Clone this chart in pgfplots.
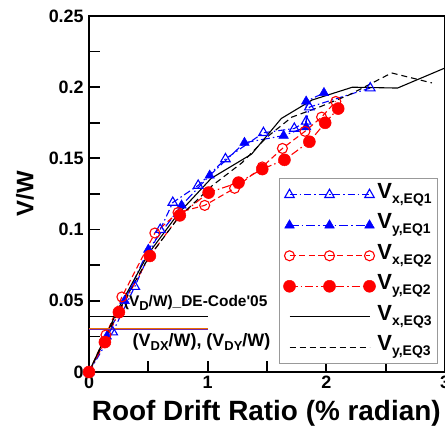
\documentclass[border=0pt]{standalone}
\usepackage{fontspec}
\setmainfont{Liberation Sans}
\usepackage{pgfplots}
\pgfplotsset{compat=1.18}

\definecolor{codeorange}{RGB}{235,110,0}
\definecolor{codepurple}{RGB}{120,40,170}

\newcommand{\sub}[1]{\raisebox{-5bp}{\fontsize{14}{14}\selectfont\bfseries #1}}
\newcommand{\ssub}[1]{\raisebox{-3.5bp}{\fontsize{13}{13}\selectfont\bfseries #1}}

\begin{document}
\begin{tikzpicture}
\begin{axis}[
    scale only axis,
    width=356bp, height=356bp,
    line width=2bp,
    xmin=0, xmax=3, ymin=0, ymax=0.25,
    xtick={0,1,2,3}, minor xtick={0.5,1.5,2.5},
    ytick={0,0.05,0.1,0.15,0.2,0.25},
    yticklabels={0,0.05,0.1,0.15,0.2,0.25},
    minor ytick={0.025,0.075,0.125,0.175,0.225},
    xtick pos=bottom, ytick pos=left,
    tick align=inside,
    major tick length=11bp, minor tick length=11bp,
    every tick/.style={black, line width=1.8bp},
    /pgf/number format/assume math mode=true,
    ticklabel style={font=\fontsize{18}{18}\selectfont\bfseries},
    yticklabel style={xshift=-1bp},
    xlabel={Roof Drift Ratio (\% radian)},
    ylabel={V/W},
    xlabel style={font=\fontsize{28}{28}\selectfont\bfseries,
        at={(axis description cs:0.498,-0.115)}, anchor=center},
    ylabel style={font=\fontsize{24}{24}\selectfont\bfseries,
        at={(axis description cs:-0.18,0.5)}, anchor=center},
    clip=false,
    legend cell align=left,
    legend style={
        at={(axis description cs:0.534,0.022)}, anchor=south west,
        draw=gray!80, line width=0.8bp, fill=white,
        font=\fontsize{22}{22}\selectfont\bfseries,
        inner xsep=4bp, inner ysep=6bp,
        row sep=9.5bp,
        nodes={text height=14bp, text depth=7bp, inner ysep=0bp},
    },
    legend image code/.code={
        \draw[#1] plot coordinates {(0bp,0bp) (40bp,0bp) (80bp,0bp)};
    },
]

% V_x,EQ1
\addplot[blue, line width=1.1bp, dash pattern=on 7bp off 3bp on 1.5bp off 3bp,
    mark=triangle, mark size=5.5bp, mark options={solid, line width=1.1bp}]
coordinates {
(0,0) (0.2,0.028) (0.386,0.060) (0.6,0.100) (0.706,0.119) (0.92,0.131)
(1.15,0.1496) (1.47,0.168) (1.73,0.171) (1.83,0.176) (1.857,0.186) (2.37,0.1994)
};
\addlegendentry{V\sub{x,EQ1}}

% V_y,EQ1
\addplot[blue, line width=1.1bp, dash pattern=on 9bp off 3bp on 1.5bp off 3bp,
    mark=triangle*, mark size=5.5bp, mark options={solid, line width=0.5bp}]
coordinates {
(0,0) (0.15,0.025) (0.3,0.05) (0.5,0.086) (0.78,0.117) (1.017,0.138)
(1.31,0.161) (1.64,0.166) (1.83,0.172) (1.83,0.19) (1.98,0.196)
};
\addlegendentry{V\sub{y,EQ1}}

% V_x,EQ2
\addplot[red, line width=1.1bp, dash pattern=on 6bp off 3.5bp,
    mark=o, mark size=5bp, mark options={solid, line width=1.1bp}]
coordinates {
(0,0) (0.143,0.026) (0.277,0.0527) (0.555,0.0976) (0.75,0.112) (0.975,0.117)
(1.227,0.129) (1.46,0.144) (1.63,0.157) (1.82,0.169) (1.96,0.179) (2.08,0.190)
};
\addlegendentry{V\sub{x,EQ2}}

% V_y,EQ2
\addplot[red, line width=1.1bp, dash pattern=on 8bp off 3bp on 1.5bp off 3bp,
    mark=*, mark size=6bp, mark options={solid, line width=0.5bp}]
coordinates {
(0,0) (0.134,0.021) (0.252,0.042) (0.513,0.0815) (0.765,0.110) (1.008,0.126)
(1.26,0.133) (1.46,0.1425) (1.647,0.149) (1.857,0.1617) (1.99,0.175) (2.10,0.185)
};
\addlegendentry{V\sub{y,EQ2}}

% V_x,EQ3
\addplot[black, line width=1.1bp, no marks]
coordinates {
(0,0) (0.25,0.045) (0.5,0.083) (0.75,0.111) (1.03,0.136) (1.29,0.149)
(1.37,0.153) (1.62,0.178) (1.88,0.191) (2.22,0.2) (2.6,0.1994) (3.0,0.2135)
};
\addlegendentry{V\sub{x,EQ3}}

% V_y,EQ3
\addplot[black, line width=1.1bp, dash pattern=on 6bp off 4bp, no marks]
coordinates {
(0,0) (0.25,0.043) (0.5,0.08) (0.75,0.108) (1.04,0.131) (1.29,0.147)
(1.5,0.165) (1.71,0.179) (1.94,0.186) (2.19,0.1945) (2.55,0.21) (2.89,0.203)
};
\addlegendentry{V\sub{y,EQ3}}

% design base shear levels
\addplot[black, line width=0.7bp, forget plot] coordinates {(0,0.0388) (1,0.0388)};
\addplot[codepurple, line width=0.7bp, forget plot] coordinates {(0,0.0301) (1,0.0301)};
\addplot[codeorange, line width=1bp, forget plot] coordinates {(0,0.0308) (1,0.0308)};

\node[anchor=west, inner sep=0pt, font=\fontsize{15.5}{15.5}\selectfont\bfseries]
    at (axis cs:0.286,0.0485) {(V\ssub{D}/W)\_DE-Code\textquotesingle05};
\node[anchor=west, inner sep=0pt, font=\fontsize{18}{18}\selectfont\bfseries]
    at (axis cs:0.36,0.021) {(V\ssub{DX}/W), (V\ssub{DY}/W)};
\end{axis}
\pgfresetboundingbox
\useasboundingbox (-89bp,-60bp) rectangle (356bp,372bp);
\end{tikzpicture}
\end{document}
